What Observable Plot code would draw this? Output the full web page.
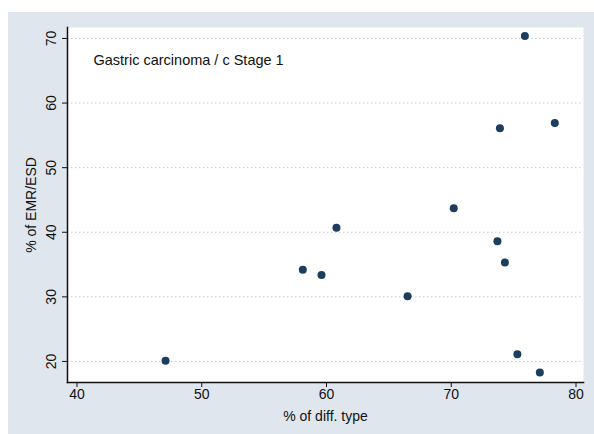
<!DOCTYPE html>
<html>
<head>
<meta charset="utf-8">
<script src="https://cdn.jsdelivr.net/npm/d3@7"></script>
<script src="https://cdn.jsdelivr.net/npm/@observablehq/plot@0.6"></script>
<style>
  html, body { margin: 0; padding: 0; background: #ffffff; }
  #wrap { width: 594px; height: 434px; background: #ffffff; position: relative; overflow: hidden; }
  #chart { position: absolute; left: 8px; top: 12px; }
  #chart svg { background: #dfe6ee; display: block; }
</style>
</head>
<body>
<div id="wrap"><div id="chart"></div></div>
<script>
const title = "Gastric carcinoma / c Stage 1";
const xLabel = "% of diff. type";
const yLabel = "% of EMR/ESD";
const xTicks = [40, 50, 60, 70, 80];
const yTicks = [20, 30, 40, 50, 60, 70];
const diffType = [47.1, 58.1, 59.6, 60.8, 66.5, 70.2, 73.7, 74.3, 75.3, 77.1, 75.9, 73.9, 78.3];
const emrEsd  = [20.1, 34.2, 33.4, 40.7, 30.1, 43.7, 38.6, 35.3, 21.1, 18.3, 70.4, 56.1, 56.9];

const data = diffType.map((x, i) => ({x, y: emrEsd[i]}));
const font = "'Liberation Sans', Arial, Helvetica, sans-serif";

const chart = Plot.plot({
  width: 586,
  height: 422,
  marginLeft: 59,
  marginTop: 15,
  marginRight: 11,
  marginBottom: 52,
  style: {background: "#dfe6ee", fontFamily: font, fontSize: "14px", color: "#111"},
  x: {domain: [39.24, 80.6]},
  y: {domain: [16.74, 71.7]},
  marks: [
    Plot.frame({fill: "white", stroke: null}),
    Plot.gridY(yTicks, {stroke: "#c8c8c8", strokeOpacity: 1, strokeDasharray: "1.5,2.5"}),
    Plot.axisX(xTicks, {tickSize: 5, tickPadding: 2, fontSize: 14, label: xLabel, labelAnchor: "center", labelArrow: "none", labelOffset: 38}),
    Plot.axisY(yTicks, {tickSize: 5, tickPadding: 7, tickRotate: -90, fontSize: 14, label: yLabel, labelAnchor: "center", labelArrow: "none", labelOffset: 41}),
    Plot.frame({anchor: "left", stroke: "#111", strokeWidth: 1.5}),
    Plot.frame({anchor: "bottom", stroke: "#111", strokeWidth: 1.5}),
    Plot.dot(data, {x: "x", y: "y", r: 4, fill: "#1b3d5e", stroke: "none"}),
    Plot.text([title], {frameAnchor: "top-left", dx: 26, dy: 33, lineAnchor: "middle", textAnchor: "start", fontSize: 14.5, fill: "#111"})
  ]
});
document.getElementById("chart").appendChild(chart);
</script>
</body>
</html>
